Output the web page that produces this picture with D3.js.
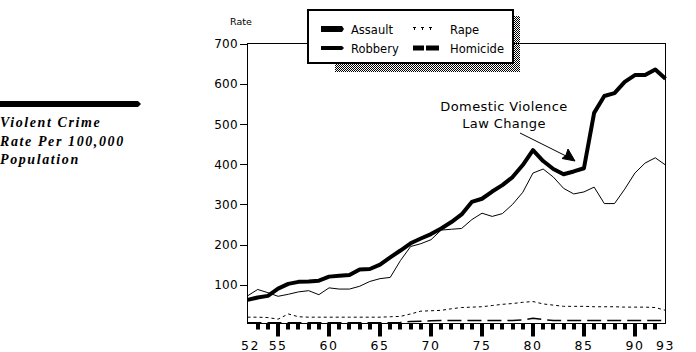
<!DOCTYPE html>
<html><head><meta charset="utf-8">
<script src="https://cdn.jsdelivr.net/npm/d3@7"></script>
<style>html,body{margin:0;padding:0;background:#fff;}svg{display:block;}</style>
</head><body>
<svg id="chart" width="696" height="352"></svg>
<script>
const years = d3.range(52, 94);
const assault = [62,68,72,90,102,107,108,110,120,122,124,138,139,150,168,185,203,215,226,240,256,275,306,314,332,348,368,398,435,408,388,375,382,390,528,570,577,605,622,622,636,613];
const robbery = [72,88,80,71,76,82,85,75,92,89,89,96,108,115,118,160,195,202,212,236,238,240,262,278,270,277,300,330,378,388,368,340,326,331,343,302,302,338,378,403,416,398];
const rape = [19,19,18,14,27,20,19,19,19,19,19,19,19,19,20,21,27,34,35,36,40,43,44,45,48,51,53,56,58,52,49,46,46,46,45,45,45,44,44,44,43,36];
const homicide = [5,5,5,5,5,5,5,5,5,5,5,5,5,5,5,6,8,9,10,11,11,11,11,11,11,11,11,12,16,13,11,11,11,11,11,11,11,11,11,11,11,11];
const yTicks = [100,200,300,400,500,600,700];
const xLabels = [52,55,60,65,70,75,80,85,90,93];
const titleLines = ["Violent Crime","Rate Per 100,000","Population"];
const legendItems = [
  {name:"Assault", col:0, row:0, type:"assault"},
  {name:"Robbery", col:0, row:1, type:"robbery"},
  {name:"Rape", col:1, row:0, type:"rape"},
  {name:"Homicide", col:1, row:1, type:"homicide"}
];

const svg = d3.select("#chart");
const x = d3.scaleLinear().domain([52,93]).range([247.5,665.5]);
const y = d3.scaleLinear().domain([0,700]).range([324.8,43.8]);
const sans = "'DejaVu Sans', sans-serif";

// stipple pattern for legend shadow
const defs = svg.append("defs");
const pat = defs.append("pattern").attr("id","stip").attr("width",2).attr("height",2).attr("patternUnits","userSpaceOnUse");
pat.append("rect").attr("x",0).attr("y",0).attr("width",1).attr("height",1).attr("fill","#000");
pat.append("rect").attr("x",1).attr("y",1).attr("width",1).attr("height",1).attr("fill","#000");

// Left title
svg.append("path").attr("d","M0,101 L138,101 L141,104 L138,107 L0,107 Z").attr("fill","#000");
svg.selectAll("text.title").data(titleLines).join("text").attr("class","title")
  .attr("x",0).attr("y",(d,i)=>127+i*18.5)
  .attr("font-family","'Liberation Serif', serif").attr("font-weight","bold").attr("font-style","italic")
  .attr("font-size",14).attr("letter-spacing",1.6).attr("fill","#000").text(d=>d);

// frame
svg.append("rect").attr("x",247.5).attr("y",43.5).attr("width",418).attr("height",280)
  .attr("fill","none").attr("stroke","#000").attr("stroke-width",1);

// y axis ticks
const yg = svg.append("g");
yg.selectAll("line").data(yTicks).join("line")
  .attr("x1",240).attr("x2",247.5).attr("y1",d=>Math.round(y(d))+0.5).attr("y2",d=>Math.round(y(d))+0.5)
  .attr("stroke","#000");
yg.selectAll("text").data(yTicks).join("text")
  .attr("x",238).attr("y",d=>y(d)+4.5).attr("text-anchor","end")
  .attr("font-family",sans).attr("font-size",12).attr("letter-spacing",0.3).text(d=>d);
svg.append("text").attr("x",241).attr("y",25).attr("text-anchor","middle")
  .attr("font-family",sans).attr("font-size",9.5).text("Rate");

// x axis ticks (thick blocks)
const tickYears = d3.range(53,93);
svg.selectAll("rect.xt").data(tickYears).join("rect").attr("class","xt")
  .attr("x",d=>Math.round(x(d))-2).attr("y",323.5).attr("width",4)
  .attr("height",d=>d%5===0?13:6).attr("fill","#000");
svg.selectAll("text.xl").data(xLabels).join("text").attr("class","xl")
  .attr("x",d=>x(d)+(d===52?3:0)).attr("y",350).attr("text-anchor","middle")
  .attr("font-family",sans).attr("font-size",12.5).attr("letter-spacing",1.5).text(d=>d);

// lines
const line = arr => d3.line().x((d,i)=>x(years[i])).y(d=>y(d))(arr);
svg.append("path").attr("d",line(homicide)).attr("fill","none").attr("stroke","#000")
  .attr("stroke-width",1.5).attr("stroke-dasharray","14,6");
svg.append("path").attr("d",line(rape)).attr("fill","none").attr("stroke","#000")
  .attr("stroke-width",1).attr("stroke-dasharray","3,3");
svg.append("path").attr("d",line(robbery)).attr("fill","none").attr("stroke","#000")
  .attr("stroke-width",1);
svg.append("path").attr("d",line(assault)).attr("fill","none").attr("stroke","#000")
  .attr("stroke-width",4).attr("stroke-linejoin","round");

// annotation
const ann = svg.append("g").attr("font-family",sans).attr("font-size",13).attr("letter-spacing",0.4).attr("text-anchor","middle");
ann.append("text").attr("x",504).attr("y",111).text("Domestic Violence");
ann.append("text").attr("x",504).attr("y",128).text("Law Change");
svg.append("line").attr("x1",520).attr("y1",133).attr("x2",572).attr("y2",159).attr("stroke","#000");
svg.append("path").attr("d","M575,161 L562,158.5 L566,155 L568,149 Z").attr("fill","#000").attr("stroke","#000").attr("stroke-width",1);

// legend
svg.append("rect").attr("x",335).attr("y",16).attr("width",185).attr("height",56).attr("fill","url(#stip)");
svg.append("rect").attr("x",308).attr("y",10).attr("width",205).attr("height",53)
  .attr("fill","#fff").attr("stroke","#000").attr("stroke-width",2);
const lg = svg.append("g");
const lx = c => c===0?321:413, ly = r => r===0?29:48;
legendItems.forEach(it=>{
  const X = lx(it.col), Y = ly(it.row);
  if(it.type==="assault"){
    lg.append("path").attr("d",`M${X},${Y-3} L${X+21},${Y-3} L${X+23},${Y} L${X+21},${Y+3} L${X},${Y+3} Z`).attr("fill","#000");
  } else if(it.type==="robbery"){
    lg.append("path").attr("d",`M${X},${Y-2} L${X+21},${Y-2} L${X+23},${Y} L${X+21},${Y+2} L${X},${Y+2} Z`).attr("fill","#000");
  } else if(it.type==="rape"){
    [0,8,16].forEach(o=>lg.append("rect").attr("x",X+1+o).attr("y",Y-2).attr("width",1).attr("height",3).attr("fill","#000"));
    [0,8,16].forEach(o=>lg.append("rect").attr("x",X+o).attr("y",Y-2).attr("width",3).attr("height",1).attr("fill","#000"));
  } else {
    lg.append("rect").attr("x",X).attr("y",Y-2.5).attr("width",11).attr("height",5).attr("fill","#000");
    lg.append("rect").attr("x",X+13).attr("y",Y-2.5).attr("width",13).attr("height",5).attr("fill","#000");
  }
  lg.append("text").attr("x",it.col===0?351:450).attr("y",Y+4.5)
    .attr("font-family",sans).attr("font-size",11.5).text(it.name);
});
</script>
</body></html>
